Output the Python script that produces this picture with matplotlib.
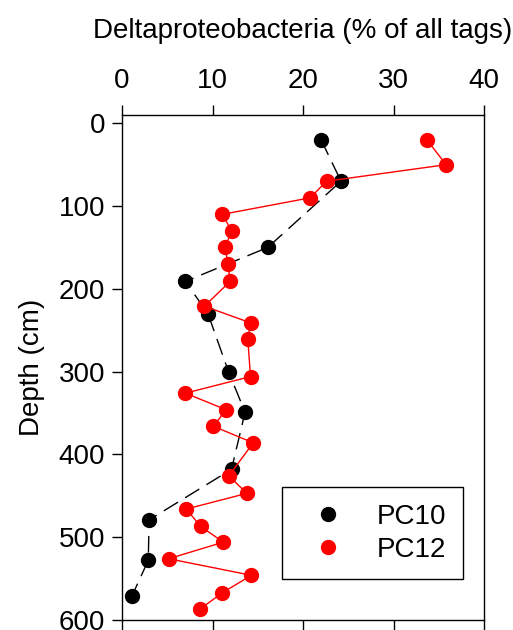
import matplotlib
matplotlib.use("Agg")
import matplotlib.pyplot as plt
from matplotlib.lines import Line2D

plt.rcParams['font.family'] = ['Liberation Sans', 'DejaVu Sans']

pc10_x = [22.0, 24.2, 16.1, 7.0, 9.5, 11.8, 13.6, 12.1, 3.0, 2.9, 1.1]
pc10_depth = [20, 70, 150, 191, 230, 301, 349, 418, 479, 528, 571]

pc12_x = [33.7, 35.8, 22.6, 20.8, 11.1, 12.1, 11.4, 11.7, 11.95, 9.1, 14.2, 13.9,
          14.2, 7.0, 11.5, 10.1, 14.5, 11.8, 13.8, 7.1, 8.7, 11.2, 5.15, 14.3, 11.1, 8.6]
pc12_depth = [20, 50, 70, 90, 110, 130, 150, 170, 191, 221, 241, 261,
              306, 326, 346, 366, 386, 426, 447, 466, 487, 506, 526, 546, 567, 587]

x_ticks = [0, 10, 20, 30, 40]
y_ticks = [0, 100, 200, 300, 400, 500, 600]

FS = 20

fig = plt.figure(figsize=(5.13, 6.3), dpi=100)
ax = fig.add_axes([122/513, 10/630, 362/513, 505/630])

ax.plot(pc10_x, pc10_depth, color='black', linewidth=1.0, dashes=(12, 6),
        marker='o', markersize=10, markerfacecolor='black', markeredgecolor='black', zorder=3)
ax.plot(pc12_x, pc12_depth, color='red', linewidth=1.0,
        marker='o', markersize=10, markerfacecolor='red', markeredgecolor='red', zorder=4)

ax.set_xlim(0, 40)
ax.set_ylim(600, -10)
ax.set_xticks(x_ticks)
ax.set_yticks(y_ticks)
ax.xaxis.tick_top()
ax.xaxis.set_label_position('top')
ax.tick_params(axis='x', which='both', top=True, bottom=True, labeltop=True, labelbottom=False,
               direction='out', length=7, width=1, labelsize=FS, pad=8)
ax.tick_params(axis='y', direction='out', length=7, width=1, labelsize=FS, pad=5)
for s in ax.spines.values():
    s.set_linewidth(1.0)

ax.set_xlabel('Deltaproteobacteria (% of all tags)', fontsize=FS, labelpad=22)
ax.set_ylabel('Depth (cm)', fontsize=FS, labelpad=10)

handles = [Line2D([], [], linestyle='none', marker='o', markersize=10, color='black'),
           Line2D([], [], linestyle='none', marker='o', markersize=10, color='red')]
leg = ax.legend(handles, ['PC10', 'PC12'], loc='upper left',
                bbox_to_anchor=((282-122)/362, (620-487)/505), fontsize=FS,
                frameon=True, fancybox=False, edgecolor='black', framealpha=1,
                borderpad=0.6, handletextpad=0.67, labelspacing=0.25, borderaxespad=0,
                handlelength=2.14)
leg.get_frame().set_linewidth(1.0)

fig.savefig('out.png', dpi=100)
